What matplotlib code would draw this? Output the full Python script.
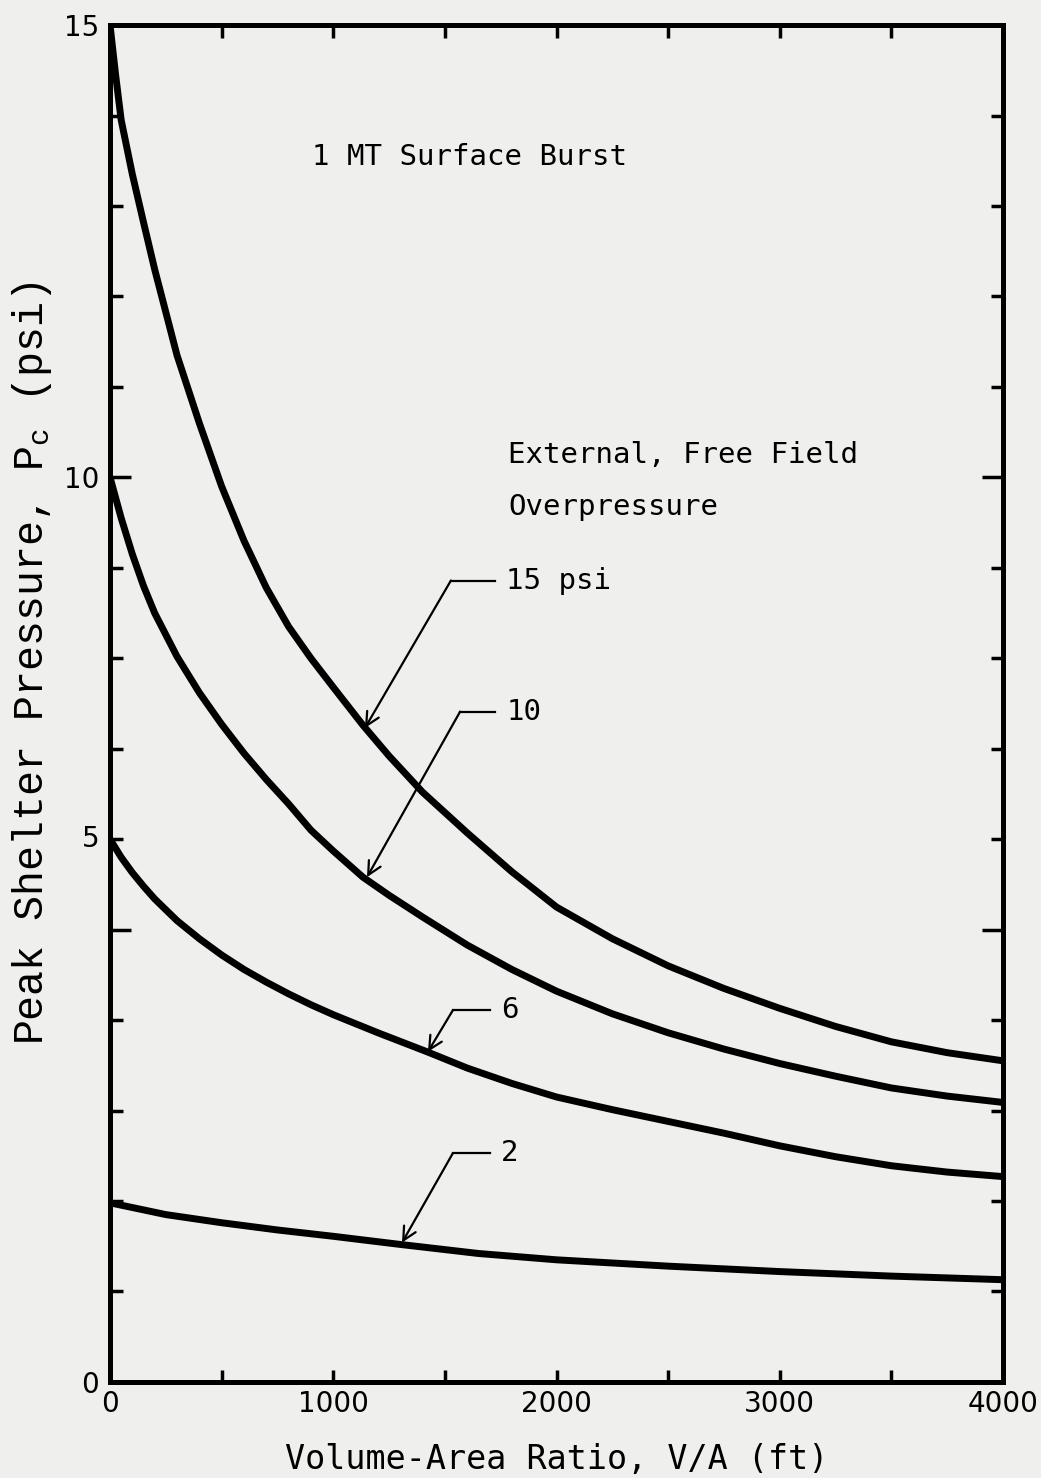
import matplotlib
matplotlib.use('Agg')
import matplotlib.pyplot as plt

# values
x_15 = [0, 25, 50, 100, 150, 200, 300, 400, 500, 600, 700, 800, 900, 1000, 1133,
        1250, 1400, 1600, 1800, 2000, 2250, 2500, 2750, 3000, 3250, 3500, 3750, 4000]
p_15 = [15.0, 14.45, 13.95, 13.35, 12.82, 12.3, 11.35, 10.6, 9.9, 9.3, 8.78, 8.35, 8.0, 7.68, 7.26,
        6.92, 6.52, 6.07, 5.64, 5.25, 4.9, 4.6, 4.35, 4.13, 3.93, 3.76, 3.64, 3.55]

x_10 = [0, 50, 100, 150, 200, 300, 400, 500, 600, 700, 800, 900, 1000, 1133,
        1250, 1400, 1600, 1800, 2000, 2250, 2500, 2750, 3000, 3250, 3500, 3750, 4000]
p_10 = [10.0, 9.55, 9.15, 8.8, 8.5, 8.02, 7.62, 7.27, 6.95, 6.66, 6.39, 6.10, 5.87, 5.58,
        5.38, 5.14, 4.83, 4.56, 4.32, 4.07, 3.86, 3.68, 3.52, 3.38, 3.25, 3.16, 3.09]

x_6 = [0, 50, 100, 150, 200, 300, 400, 500, 600, 700, 800, 900, 1000, 1200,
       1420, 1600, 1800, 2000, 2250, 2500, 2750, 3000, 3250, 3500, 3750, 4000]
p_6 = [6.0, 5.8, 5.63, 5.48, 5.34, 5.1, 4.9, 4.72, 4.56, 4.42, 4.29, 4.17, 4.06, 3.86,
       3.65, 3.47, 3.30, 3.15, 3.01, 2.88, 2.75, 2.61, 2.49, 2.39, 2.32, 2.27]

x_2 = [0, 250, 500, 750, 1000, 1300, 1650, 2000, 2500, 3000, 3500, 4000]
p_2 = [1.98, 1.85, 1.76, 1.68, 1.61, 1.52, 1.42, 1.35, 1.28, 1.22, 1.17, 1.13]

curves = [(x_15, p_15), (x_10, p_10), (x_6, p_6), (x_2, p_2)]

# leader labels: text, arrow tip, elbow, end of horizontal stroke
labels = ['15 psi', '10', '6', '2']
tips = [(1142, 7.23), (1151, 5.58), (1424, 3.65), (1308, 1.54)]
elbows = [(1527, 8.86), (1568, 7.41), (1536, 4.11), (1536, 2.53)]
ends = [(1725, 8.86), (1725, 7.41), (1702, 4.11), (1702, 2.53)]

paper = '#efefed'
plt.rcParams['mathtext.fontset'] = 'custom'
plt.rcParams['mathtext.rm'] = 'Liberation Mono'
plt.rcParams['mathtext.it'] = 'Liberation Mono'

fig = plt.figure(figsize=(10.41, 14.78), dpi=100, facecolor=paper)
ax = fig.add_axes([0.1057, 0.065, 0.8578, 0.918])
ax.set_facecolor(paper)

for xs, ps in curves:
    ax.plot(xs, ps, color='black', lw=5, solid_capstyle='butt',
            solid_joinstyle='round')

for lab, tip, el, en in zip(labels, tips, elbows, ends):
    ax.plot([el[0], en[0]], [el[1], en[1]], color='black', lw=1.6)
    ax.annotate('', xy=tip, xytext=el,
                arrowprops=dict(arrowstyle='->', color='black', lw=1.6,
                                mutation_scale=24, shrinkA=0, shrinkB=0))
    ax.text(en[0] + 50, en[1], lab, fontsize=21, family='DejaVu Sans Mono',
            va='center', ha='left')

ax.text(905, 13.54, '1 MT Surface Burst', fontsize=21,
        family='DejaVu Sans Mono', va='center')
ax.text(1783, 10.25, 'External, Free Field', fontsize=21,
        family='DejaVu Sans Mono', va='center')
ax.text(1783, 9.67, 'Overpressure', fontsize=21,
        family='DejaVu Sans Mono', va='center')

ax.set_xlim(0, 4000)
ax.set_ylim(0, 15)

ax.set_xticks([0, 1000, 2000, 3000, 4000])
ax.set_xticks(range(0, 4001, 500), minor=True)
ax.set_yticks([0, 5, 10, 15])
ax.set_yticklabels(['0', '', '10', '15'])
ax.set_yticks(range(0, 16), minor=True)
# the scan prints its "5" beside the 6 psi tick
ax.text(-0.012, 6, '5', transform=ax.get_yaxis_transform(),
        ha='right', va='center', fontsize=20)

ax.tick_params(which='both', direction='in', top=True, right=True,
               width=2.5, labelsize=20, color='black')
ax.tick_params(axis='y', which='major', length=15, pad=8)
ax.tick_params(axis='y', which='minor', length=9)
ax.tick_params(axis='x', which='both', length=9, pad=6)

for sp in ax.spines.values():
    sp.set_linewidth(3.6)

ax.set_xlabel('Volume-Area Ratio, V/A (ft)', fontsize=24,
              family='DejaVu Sans Mono')
ax.xaxis.set_label_coords(0.5, -0.045)
ax.set_ylabel('Peak Shelter Pressure, P$_c$ (psi)', fontsize=30,
              family='Liberation Mono')
ax.yaxis.set_label_coords(-0.063, 0.53)

fig.savefig('out.png', dpi=100, facecolor=paper)
